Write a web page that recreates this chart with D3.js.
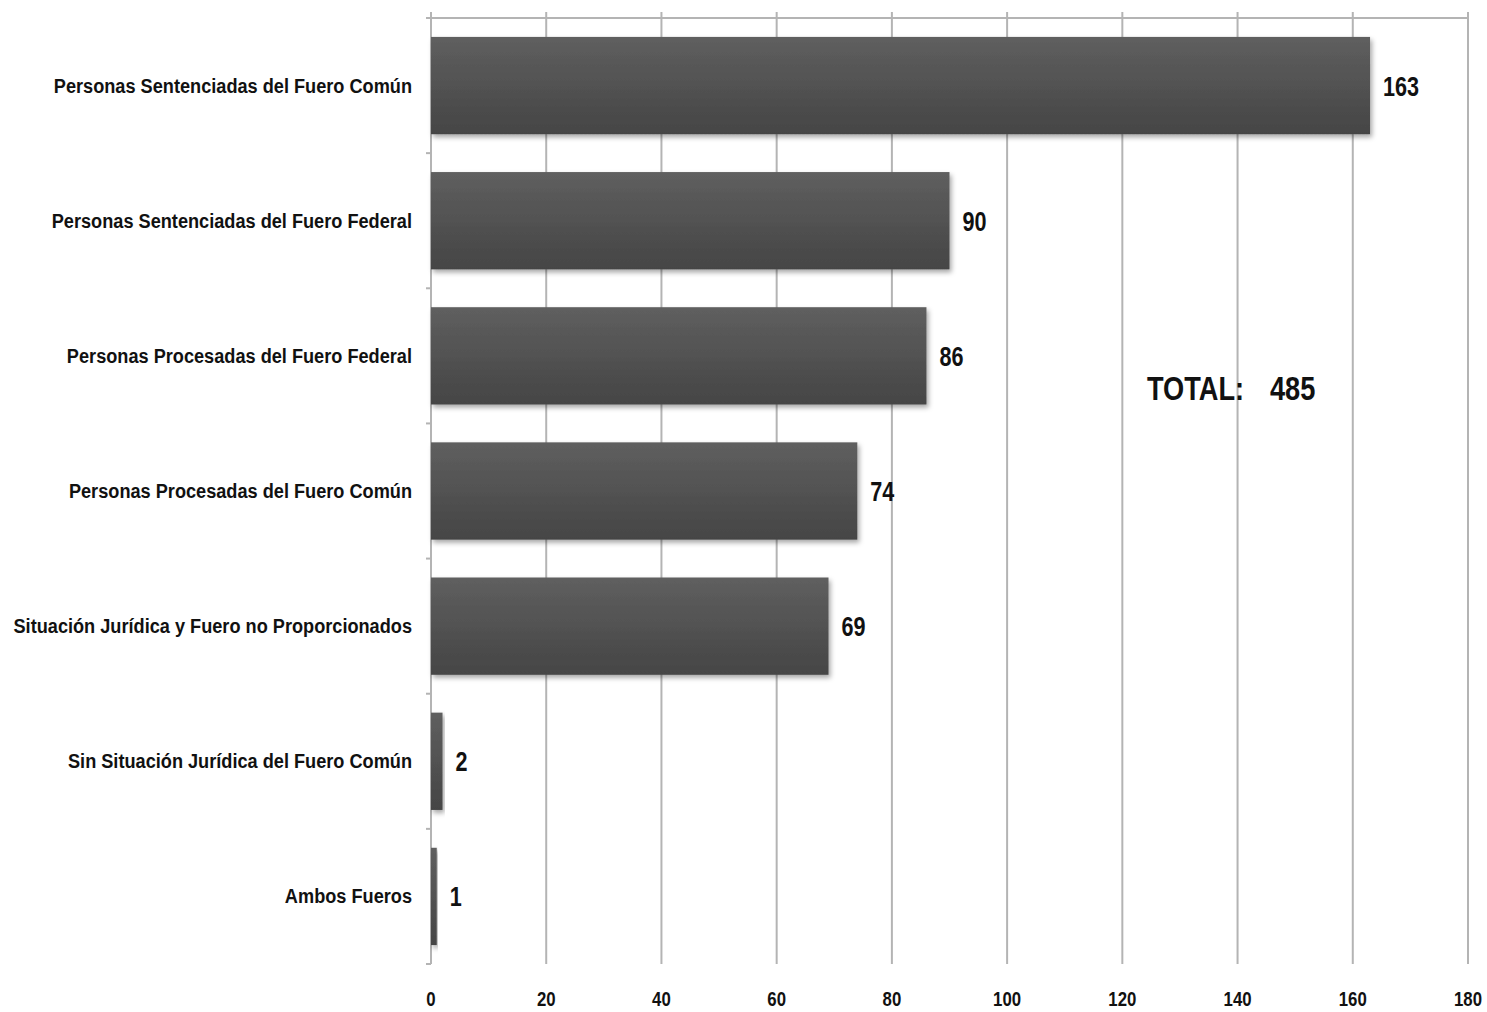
<!DOCTYPE html>
<html>
<head>
<meta charset="utf-8">
<script src="https://cdn.jsdelivr.net/npm/d3@7"></script>
<style>
  body { margin: 0; background: #fff; }
  text { font-family: "Liberation Sans Narrow", "Arial Narrow", "Liberation Sans", sans-serif; font-weight: bold; fill: #111; }
</style>
</head>
<body>
<div id="chart"></div>
<script>
var categories = [
    "Personas Sentenciadas del Fuero Común",
    "Personas Sentenciadas del Fuero Federal",
    "Personas Procesadas del Fuero Federal",
    "Personas Procesadas del Fuero Común",
    "Situación Jurídica y Fuero no Proporcionados",
    "Sin Situación Jurídica del Fuero Común",
    "Ambos Fueros"
];
var values = [163, 90, 86, 74, 69, 2, 1];
var xTicks = [0, 20, 40, 60, 80, 100, 120, 140, 160, 180];
var totalLabel = "TOTAL:";
var totalValue = 485;

const W = 1487, H = 1012;
const margin = { top: 18, right: 19, bottom: 48, left: 431 },
    width = W - margin.left - margin.right,
    height = H - margin.top - margin.bottom;

const svg = d3.select("#chart").append("svg")
    .attr("width", W)
    .attr("height", H);

// bar gradient + shadow
const defs = svg.append("defs");
const grad = defs.append("linearGradient").attr("id", "barGrad")
    .attr("x1", 0).attr("y1", 0).attr("x2", 0).attr("y2", 1);
grad.append("stop").attr("offset", "0%").attr("stop-color", "#5f5f5f");
grad.append("stop").attr("offset", "100%").attr("stop-color", "#454545");
const shadow = defs.append("filter").attr("id", "shadow")
    .attr("x", "-5%").attr("y", "-10%").attr("width", "120%").attr("height", "130%");
shadow.append("feDropShadow").attr("dx", 2).attr("dy", 3).attr("stdDeviation", 2.5)
    .attr("flood-color", "#000").attr("flood-opacity", 0.35);

const g = svg.append("g").attr("transform", `translate(${margin.left},${margin.top})`);

const x = d3.scaleLinear().domain([0, 180]).range([0, width]);
const y = d3.scaleBand().domain(categories).range([0, height])
    .paddingInner(0.28).paddingOuter(0.14);

// condensed bold text (no narrow font installed, so squeeze horizontally)
function narrowText(sel, size, sx, anchor) {
    return sel.append("text")
        .attr("text-anchor", anchor || "start")
        .attr("transform", `scale(${sx},1)`)
        .style("font-size", size + "px");
}

// vertical gridlines
g.selectAll(".grid")
    .data(xTicks)
    .enter().append("line")
    .attr("x1", d => x(d)).attr("x2", d => x(d))
    .attr("y1", -6).attr("y2", height)
    .attr("stroke", "#b4b4b4").attr("stroke-width", 2);

// top line
g.append("line")
    .attr("x1", -5).attr("x2", x(180))
    .attr("y1", 0).attr("y2", 0)
    .attr("stroke", "#b4b4b4").attr("stroke-width", 2);

// left axis ticks at band boundaries
const bounds = d3.range(categories.length + 1).map(i => i * height / categories.length);
g.selectAll(".ytick")
    .data(bounds)
    .enter().append("line")
    .attr("x1", -5).attr("x2", 0)
    .attr("y1", d => d).attr("y2", d => d)
    .attr("stroke", "#b4b4b4").attr("stroke-width", 2);

// bars
g.selectAll(".bar")
    .data(values)
    .enter().append("rect")
    .attr("x", x(0))
    .attr("y", (d, i) => y(categories[i]))
    .attr("width", d => x(d) - x(0))
    .attr("height", y.bandwidth())
    .attr("fill", "url(#barGrad)")
    .attr("filter", "url(#shadow)");

// value labels
values.forEach((v, i) => {
    const lg = g.append("g")
        .attr("transform", `translate(${x(v) + 13},${y(categories[i]) + y.bandwidth() / 2 + 10})`);
    narrowText(lg, 27, 0.8).text(v);
});

// category labels
categories.forEach(c => {
    const lg = g.append("g")
        .attr("transform", `translate(-19,${y(c) + y.bandwidth() / 2 + 7})`);
    narrowText(lg, 21, 0.865, "end").text(c);
});

// x tick labels
xTicks.forEach(t => {
    const lg = g.append("g")
        .attr("transform", `translate(${x(t)},${height + 42})`);
    narrowText(lg, 20, 0.84, "middle").text(t);
});

// total
const tg1 = g.append("g").attr("transform", `translate(${1147 - margin.left},${400 - margin.top})`);
narrowText(tg1, 34, 0.8).text(totalLabel);
const tg2 = g.append("g").attr("transform", `translate(${1270 - margin.left},${400 - margin.top})`);
narrowText(tg2, 34, 0.8).text(totalValue);
</script>
</body>
</html>
